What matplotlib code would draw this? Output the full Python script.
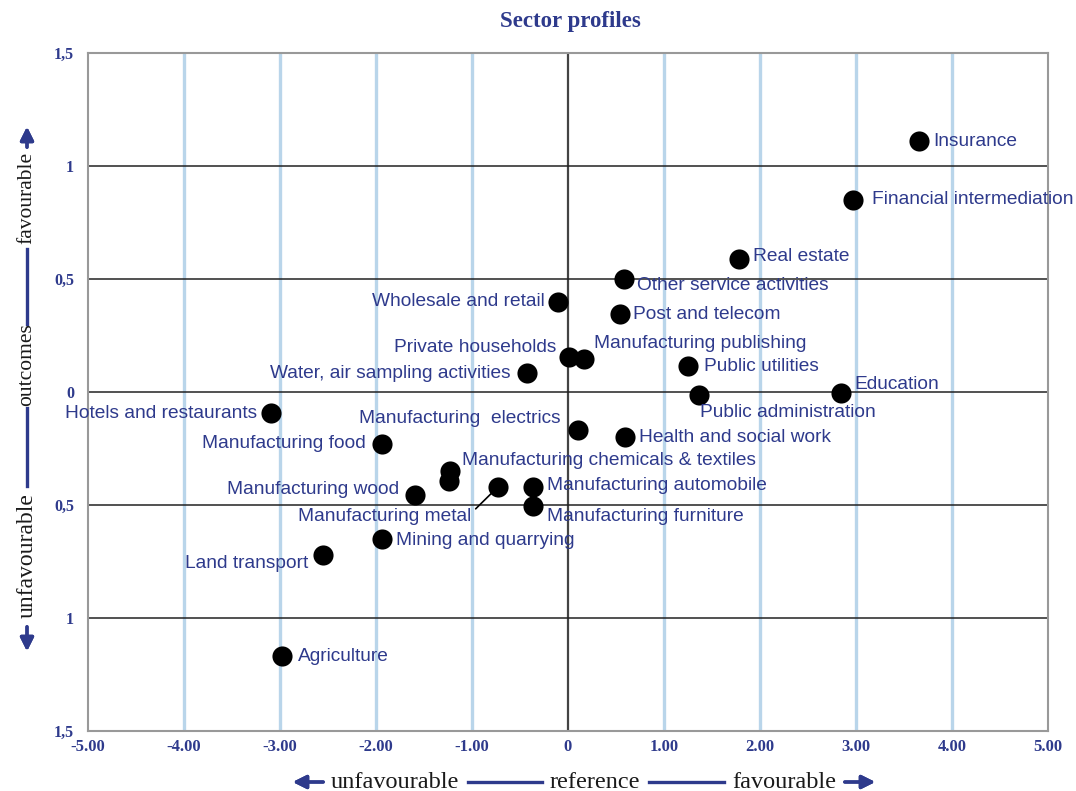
import matplotlib.pyplot as plt
from matplotlib.lines import Line2D

# sector scores: x = reference (unfavourable -> favourable), y = outcomes
sectors = [
    'Insurance', 'Financial intermediation', 'Real estate',
    'Other service activities', 'Wholesale and retail', 'Post and telecom',
    'Private households', 'Manufacturing publishing', 'Public utilities',
    'Water, air sampling activities', 'Education', 'Public administration',
    'Hotels and restaurants', 'Manufacturing  electrics',
    'Health and social work', 'Manufacturing food',
    'Manufacturing chemicals & textiles', '',
    'Manufacturing wood', 'Manufacturing metal', 'Manufacturing automobile',
    'Manufacturing furniture', 'Mining and quarrying', 'Land transport',
    'Agriculture',
]
x_vals = [3.66, 2.97, 1.78, 0.58, -0.10, 0.54, 0.01, 0.17, 1.25, -0.43,
          2.84, 1.36, -3.09, 0.10, 0.59, -1.94, -1.23, -1.24, -1.59, -0.73,
          -0.365, -0.365, -1.94, -2.55, -2.98]
y_vals = [1.11, 0.85, 0.59, 0.50, 0.40, 0.345, 0.155, 0.146, 0.115, 0.084,
          -0.005, -0.013, -0.093, -0.17, -0.20, -0.23, -0.35, -0.395, -0.456,
          -0.42, -0.42, -0.505, -0.65, -0.72, -1.17]

x_ticks = [-5, -4, -3, -2, -1, 0, 1, 2, 3, 4, 5]
x_ticklabels = ['-5.00', '-4.00', '-3.00', '-2.00', '-1.00', '0',
                '1.00', '2.00', '3.00', '4.00', '5.00']
y_ticks = [-1.5, -1, -0.5, 0, 0.5, 1, 1.5]
y_ticklabels = ['1,5', '1', '0,5', '0', '0,5', '1', '1,5']

# label placement (pixel offsets from the dot, alignment)
offsets = {
    'Insurance': (14, 0, 'left'),
    'Financial intermediation': (19, 0, 'left'),
    'Real estate': (14, 2, 'left'),
    'Other service activities': (13, -6, 'left'),
    'Wholesale and retail': (-14, 0, 'right'),
    'Post and telecom': (13, 0, 'left'),
    'Private households': (-13, 9, 'right'),
    'Manufacturing publishing': (10, 16, 'left'),
    'Public utilities': (16, 0, 'left'),
    'Water, air sampling activities': (-16, 0, 'right'),
    'Education': (14, 9, 'left'),
    'Public administration': (1, -18, 'left'),
    'Hotels and restaurants': (-14, 0, 'right'),
    'Manufacturing  electrics': (-17, 12, 'right'),
    'Health and social work': (14, 0, 'left'),
    'Manufacturing food': (-16, 0, 'right'),
    'Manufacturing chemicals & textiles': (12, 11, 'left'),
    'Manufacturing wood': (-16, 6, 'right'),
    'Manufacturing metal': (-27, -30, 'right'),
    'Manufacturing automobile': (14, 1, 'left'),
    'Manufacturing furniture': (14, -10, 'left'),
    'Mining and quarrying': (14, -2, 'left'),
    'Land transport': (-15, -9, 'right'),
    'Agriculture': (16, 0, 'left'),
}

navy = '#2e3a8c'
W, H = 1076, 791
lab_size = 13.8

fig = plt.figure(figsize=(W / 100, H / 100), dpi=100)
ax = fig.add_axes([88 / W, 60 / H, 960 / W, 678 / H])

ax.set_xlim(-5, 5)
ax.set_ylim(-1.5, 1.5)

for xv in x_ticks[1:-1]:
    if xv == 0:
        ax.axvline(0, color='#444444', lw=1.6, zorder=1)
    else:
        ax.axvline(xv, color='#b9d5ea', lw=2.4, zorder=1)
for yv in y_ticks[1:-1]:
    ax.axhline(yv, color='#222222', lw=1.1, zorder=1)

ax.scatter(x_vals, y_vals, s=210, color='black', zorder=3, linewidths=0)

for name, xv, yv in zip(sectors, x_vals, y_vals):
    if not name:
        continue
    dx, dy, ha = offsets[name]
    if name == 'Manufacturing metal':
        ax.annotate(name, (xv, yv), xytext=(dx, dy), textcoords='offset pixels',
                    ha=ha, va='center', color=navy, fontsize=lab_size,
                    family='Liberation Sans', zorder=4,
                    arrowprops=dict(arrowstyle='-', color='black', lw=1.2,
                                    shrinkA=2, shrinkB=6,
                                    relpos=(1.0, 0.7)))
    else:
        ax.annotate(name, (xv, yv), xytext=(dx, dy), textcoords='offset pixels',
                    ha=ha, va='center', color=navy, fontsize=lab_size,
                    family='Liberation Sans', zorder=4)

ax.set_xticks(x_ticks)
ax.set_xticklabels(x_ticklabels)
ax.set_yticks(y_ticks)
ax.set_yticklabels(y_ticklabels)
ax.tick_params(axis='x', length=0, pad=6, labelcolor=navy)
ax.tick_params(axis='y', length=0, pad=10, labelcolor=navy)
for lab in ax.get_xticklabels():
    lab.set_family('Liberation Serif')
    lab.set_fontweight('bold')
    lab.set_fontsize(12)
for lab in ax.get_yticklabels():
    lab.set_family('Liberation Serif')
    lab.set_fontweight('bold')
    lab.set_fontsize(11.5)
for sp in ax.spines.values():
    sp.set_color('#999999')
    sp.set_linewidth(1.5)

fig.text(570 / W, 1 - 22 / H, 'Sector profiles', ha='center', va='center',
         family='Liberation Serif', fontweight='bold', fontsize=16.5, color=navy)


def seg(x0, y0, x1, y1):
    fig.add_artist(Line2D([x0 / W, x1 / W], [1 - y0 / H, 1 - y1 / H],
                          color=navy, lw=2.4, transform=fig.transFigure))


def arrow(x0, y0, x1, y1):
    fig.add_artist(plt.annotate(
        '', xy=(x1 / W, 1 - y1 / H), xytext=(x0 / W, 1 - y0 / H),
        xycoords='figure fraction', textcoords='figure fraction',
        arrowprops=dict(arrowstyle='-|>,head_length=0.8,head_width=0.4',
                        color=navy, lw=2.4)))


cap = dict(family='Liberation Serif', color='#1a1a1a', ha='center', va='center')

# bottom axis caption
yb = 782
fig.text(395 / W, 1 - yb / H, 'unfavourable', fontsize=17.5, **cap)
fig.text(595 / W, 1 - yb / H, 'reference', fontsize=17.5, **cap)
fig.text(784 / W, 1 - yb / H, 'favourable', fontsize=17.5, **cap)
seg(468, yb, 542, yb)
seg(649, yb, 724, yb)
arrow(326, yb, 290, yb)
arrow(842, yb, 878, yb)

# left axis caption
xl = 27
fig.text(xl / W, 1 - 198 / H, 'favourable', rotation=90, fontsize=15.5, **cap)
fig.text(xl / W, 1 - 365 / H, 'outcomes', rotation=90, fontsize=15.5, **cap)
fig.text(xl / W, 1 - 556 / H, 'unfavourable', rotation=90, fontsize=17, **cap)
seg(xl, 249, xl, 324)
seg(xl, 408, xl, 486)
arrow(xl, 150, xl, 124)
arrow(xl, 624, xl, 654)

fig.savefig('out.png', dpi=100)
